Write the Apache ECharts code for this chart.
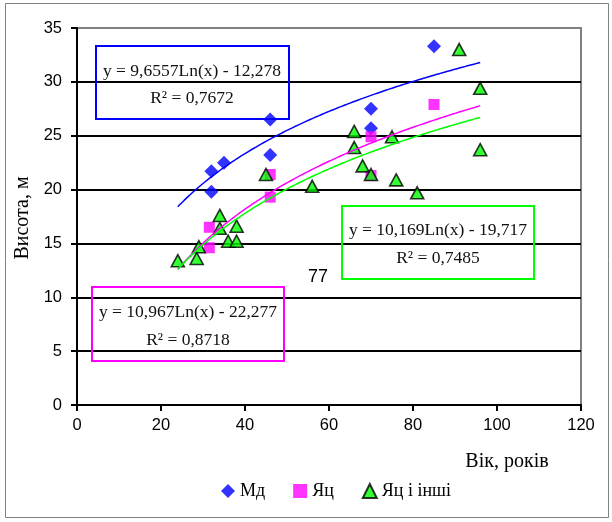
<!DOCTYPE html>
<html><head><meta charset="utf-8">
<script src="https://cdn.jsdelivr.net/npm/echarts@6/dist/echarts.min.js"></script>
<style>html,body{margin:0;padding:0;background:#fff}#c{width:612px;height:522px}</style>
</head><body><div id="c"></div>
<script>
// ---- data ----
const seriesNames = ['Мд', 'Яц', 'Яц і інші'];
const mdX = [32, 35, 32, 46, 46, 70, 70, 85];
const mdY = [21.7, 22.5, 19.8, 26.5, 23.2, 27.5, 25.7, 33.3];
const yacX = [31.5, 31.5, 46, 46, 70, 70, 85];
const yacY = [16.5, 14.6, 19.3, 21.4, 24.9, 21.3, 27.9];
const allX = [24, 28.5, 29, 34, 34, 36, 38, 38, 45, 56, 66, 66, 68, 70, 75, 76, 81, 91, 96, 96];
const allY = [13.4, 13.6, 14.7, 17.6, 16.4, 15.2, 16.6, 15.2, 21.4, 20.3, 25.4, 23.9, 22.2, 21.4, 24.9, 20.9, 19.7, 33.0, 29.4, 23.7];
// logarithmic trendlines shown in the chart: y = a*Ln(x) + b
const trendA = [9.6557, 10.967, 10.169];
const trendB = [-12.278, -22.277, -19.717];
const trendEq = ['y = 9,6557Ln(x) - 12,278', 'y = 10,967Ln(x) - 22,277', 'y = 10,169Ln(x) - 19,717'];
const trendR2 = ['R² = 0,7672', 'R² = 0,8718', 'R² = 0,7485'];
const trendFrom = 24, trendTo = 96;
const xMin = 0, xMax = 120, xStep = 20;
const yMin = 0, yMax = 35, yStep = 5;
const xTitle = 'Вік, років';
const yTitle = 'Висота, м';
const noteText = '77';

const colors = ['#0000FF', '#FF00FF', '#00FF00'];
const pairs = (xs, ys) => xs.map((x, i) => [x, ys[i]]);
function trend(k) {
  const out = [];
  for (let x = trendFrom; x <= trendTo + 1e-9; x += 0.5) out.push([x, trendA[k] * Math.log(x) + trendB[k]]);
  return out;
}

const chart = echarts.init(document.getElementById('c'), null, {renderer: 'canvas'});
const serif = '"Liberation Serif", "Times New Roman", serif';
const sans = '"Liberation Sans", Arial, sans-serif';

function box(x, y, w, h, color, k, cx, y1, y2) {
  return [
    {type: 'rect', shape: {x: x, y: y, width: w, height: h}, style: {fill: 'none', stroke: color, lineWidth: 2}, z: 50},
    {type: 'text', x: cx, y: y1, style: {text: trendEq[k], font: '17.5px ' + serif, fill: '#111', textAlign: 'center', textVerticalAlign: 'middle'}, z: 51},
    {type: 'text', x: cx, y: y2, style: {text: trendR2[k], font: '17.5px ' + serif, fill: '#111', textAlign: 'center', textVerticalAlign: 'middle'}, z: 51}
  ];
}

chart.setOption({
  animation: false,
  backgroundColor: '#fff',
  grid: {left: 77, top: 28, width: 504, height: 377, show: true, borderColor: '#808080', borderWidth: 2, backgroundColor: 'transparent'},
  xAxis: {
    type: 'value', min: xMin, max: xMax, interval: xStep,
    axisLine: {show: true, lineStyle: {color: '#000', width: 2}},
    axisTick: {show: true, length: 6, lineStyle: {color: '#000', width: 2}},
    axisLabel: {color: '#000', fontFamily: sans, fontSize: 16.5, margin: 12},
    splitLine: {show: false}
  },
  yAxis: {
    type: 'value', min: yMin, max: yMax, interval: yStep,
    axisLine: {show: true, lineStyle: {color: '#000', width: 2}},
    axisTick: {show: true, length: 6, lineStyle: {color: '#000', width: 2}},
    axisLabel: {color: '#000', fontFamily: sans, fontSize: 16.5, margin: 15},
    splitLine: {show: true, showMaxLine: false, showMinLine: false, lineStyle: {color: '#000', width: 2}}
  },
  legend: {
    data: seriesNames, bottom: 22, left: 221, padding: 0, itemGap: 28, itemWidth: 14, itemHeight: 14,
    textStyle: {fontFamily: serif, fontSize: 18, color: '#000'}
  },
  series: [
    {name: seriesNames[0], type: 'scatter', data: pairs(mdX, mdY), symbol: 'diamond', symbolSize: 14,
     itemStyle: {color: colors[0]}, z: 3},
    {name: seriesNames[1], type: 'scatter', data: pairs(yacX, yacY), symbol: 'rect', symbolSize: 11,
     itemStyle: {color: colors[1]}, z: 3},
    {name: seriesNames[2], type: 'scatter', data: pairs(allX, allY), symbol: 'triangle', symbolSize: [13, 12],
     itemStyle: {color: colors[2], borderColor: '#000', borderWidth: 1.6}, z: 4},
    {name: 'trend0', type: 'line', data: trend(0), showSymbol: false, lineStyle: {color: colors[0], width: 1.5}, z: 5, silent: true},
    {name: 'trend1', type: 'line', data: trend(1), showSymbol: false, lineStyle: {color: colors[1], width: 1.5}, z: 5, silent: true},
    {name: 'trend2', type: 'line', data: trend(2), showSymbol: false, lineStyle: {color: colors[2], width: 1.5}, z: 5, silent: true}
  ],
  graphic: [
    {type: 'rect', shape: {x: 5.5, y: 3.5, width: 603, height: 514}, style: {fill: 'none', stroke: '#808080', lineWidth: 1}, z: 1},
    ...box(96, 46, 193, 73, colors[0], 0, 192, 71, 98),
    ...box(92, 287, 192, 74, colors[1], 1, 188, 312, 340),
    ...box(342, 206, 192, 73, colors[2], 2, 438, 230, 258),
    {type: 'text', x: 318, y: 277, style: {text: noteText, font: '18px ' + sans, fill: '#000', textAlign: 'center', textVerticalAlign: 'middle'}, z: 51},
    {type: 'text', x: 507, y: 462, style: {text: xTitle, font: '20px ' + serif, fill: '#000', textAlign: 'center', textVerticalAlign: 'middle'}, z: 51},
    {type: 'text', x: 23, y: 218, rotation: Math.PI / 2, style: {text: yTitle, font: '20px ' + serif, fill: '#000', textAlign: 'center', textVerticalAlign: 'middle'}, z: 51}
  ]
});
</script>
</body></html>
